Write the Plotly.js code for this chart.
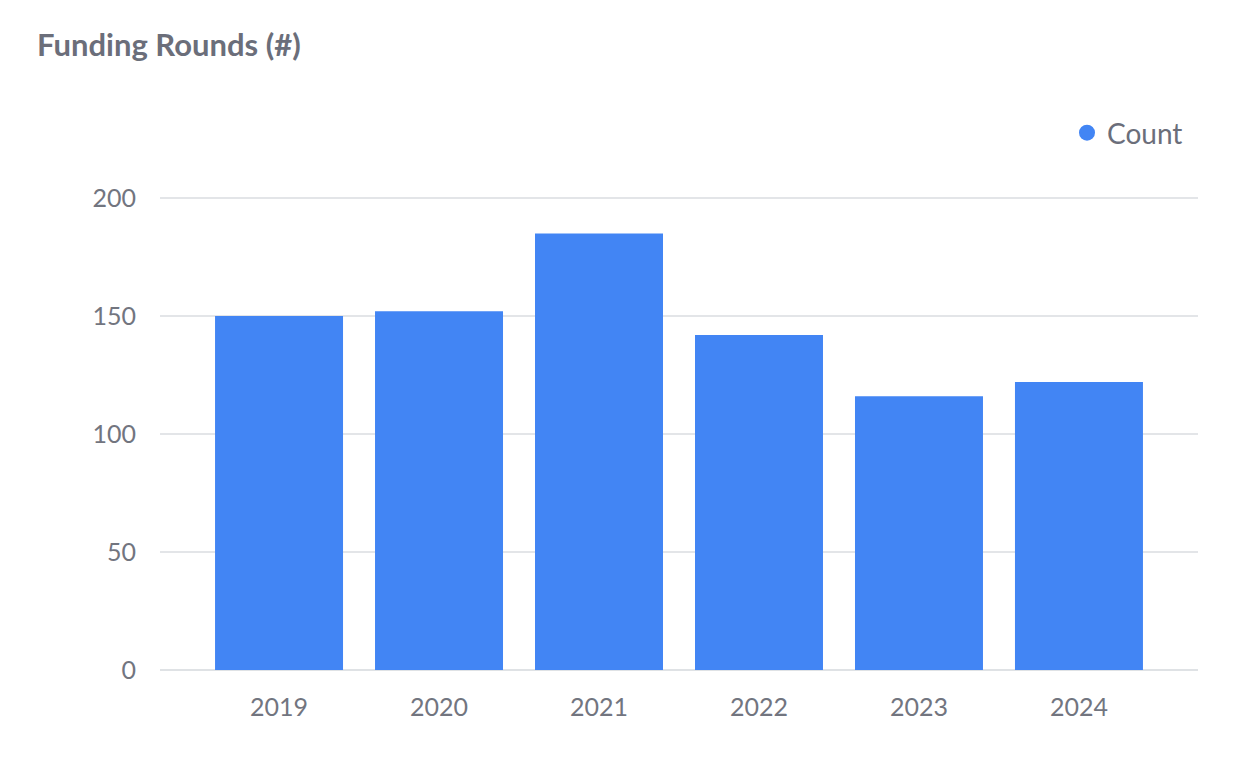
<!DOCTYPE html>
<html>
<head>
<meta charset="utf-8">
<script src="https://cdn.plot.ly/plotly-3.0.1.min.js"></script>
<style>html,body{margin:0;padding:0;background:#fff;}#chart{width:1238px;height:764px;}</style>
</head>
<body>
<div id="chart"></div>
<script>
const years = ["2019", "2020", "2021", "2022", "2023", "2024"];
const counts = [150, 152, 185, 142, 116, 122];
const seriesName = "Count";
const yTicks = [0, 50, 100, 150, 200];

const barColor = "#4285F4";
const textColor = "#6b6e7a";
const tickColor = "#72757f";

const traces = [
  {
    type: "bar",
    x: years,
    y: counts,
    name: seriesName,
    marker: { color: barColor },
    showlegend: false,
    hoverinfo: "x+y"
  },
  {
    type: "scatter",
    mode: "markers",
    x: [null],
    y: [null],
    name: seriesName,
    marker: { color: barColor, size: 16, symbol: "circle" },
    showlegend: true
  }
];

const layout = {
  width: 1238,
  height: 764,
  margin: { l: 160, r: 40, t: 190, b: 94 },
  paper_bgcolor: "#ffffff",
  plot_bgcolor: "#ffffff",
  font: { family: "Lato, 'Open Sans', sans-serif", color: textColor, size: 25 },
  title: {
    text: "Funding Rounds (#)",
    font: { family: "Lato, sans-serif", size: 31, color: "#6b6e7a", weight: "bold" },
    x: 37 / 1238,
    xanchor: "left",
    xref: "container",
    y: 1 - 45 / 764,
    yanchor: "middle",
    yref: "container"
  },
  bargap: 0.2,
  xaxis: {
    type: "category",
    range: [-0.744, 5.744],
    tickfont: { size: 25, color: tickColor },
    showgrid: false,
    showline: false,
    zeroline: false,
    ticks: "",
    ticklabelstandoff: 20
  },
  yaxis: {
    range: [0, 203.4],
    tickvals: yTicks,
    tickfont: { size: 25, color: tickColor },
    showgrid: true,
    gridcolor: "#e3e5e8",
    gridwidth: 1.5,
    zeroline: true,
    zerolinecolor: "#dfe2e5",
    zerolinewidth: 2,
    showline: false,
    ticks: "",
    ticklabelstandoff: 23
  },
  legend: {
    orientation: "h",
    x: 1 - 10 / 1038,
    xanchor: "right",
    xref: "paper",
    y: 1 - 133 / 764,
    yanchor: "middle",
    yref: "container",
    font: { size: 28, color: textColor },
    bgcolor: "rgba(0,0,0,0)"
  },
  showlegend: true
};

Plotly.newPlot("chart", traces, layout, { displayModeBar: false, staticPlot: true });
</script>
</body>
</html>
